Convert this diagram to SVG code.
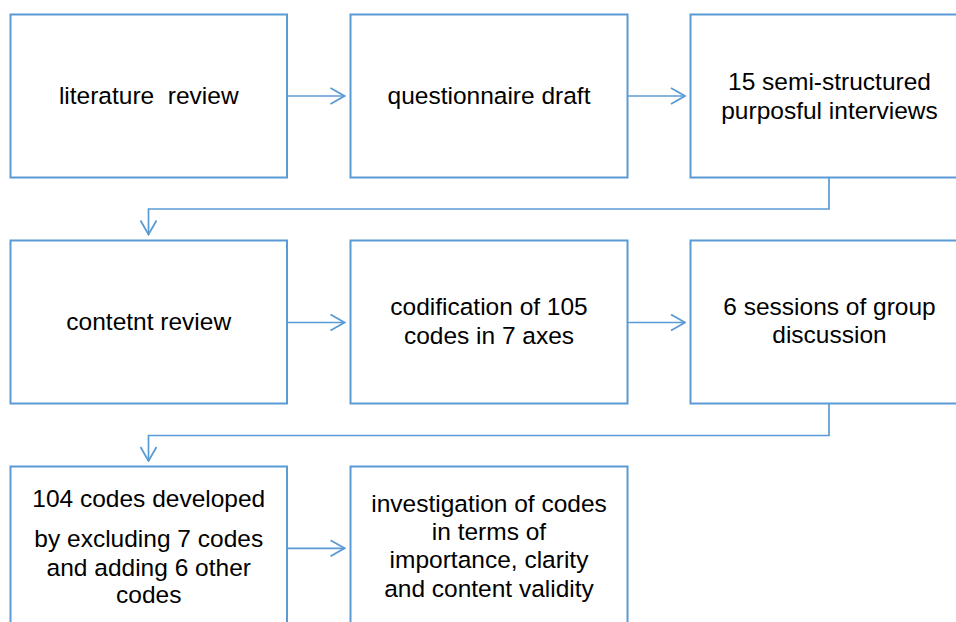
<svg xmlns="http://www.w3.org/2000/svg" width="956" height="622" viewBox="0 0 956 622">
<style>
.box{fill:#fff;stroke:#5B9BD5;stroke-width:2}
.con{fill:none;stroke:#5B9BD5;stroke-width:1.7}
text{font-family:"Liberation Sans",Arial,sans-serif;font-size:24.5px;fill:#000;text-anchor:middle}
</style>
<defs>
<marker id="ah" viewBox="0 0 16 18" refX="15" refY="9" markerWidth="16" markerHeight="18" markerUnits="userSpaceOnUse" orient="auto">
<path d="M1,1 L15,9 L1,17" fill="none" stroke="#5B9BD5" stroke-width="1.8"/>
</marker>
</defs>
<rect width="956" height="622" fill="#fff"/>
<g id="n1"><rect class="box" x="10.5" y="14.5" width="276.5" height="163"/><text x="148.75" y="103.5" xml:space="preserve">literature  review</text></g>
<g id="n2"><rect class="box" x="350.5" y="14.5" width="277" height="163"/><text x="489" y="103.5">questionnaire draft</text></g>
<g id="n3"><rect class="box" x="690.5" y="14.5" width="277" height="163"/><text x="829.5" y="89.5">15 semi-structured</text><text x="829.5" y="118.5">purposful interviews</text></g>
<g id="n4"><rect class="box" x="10.5" y="240.5" width="276.5" height="163"/><text x="148.75" y="329.5">contetnt review</text></g>
<g id="n5"><rect class="box" x="350.5" y="240.5" width="277" height="163"/><text x="489" y="315">codification of 105</text><text x="489" y="344">codes in 7 axes</text></g>
<g id="n6"><rect class="box" x="690.5" y="240.5" width="277" height="163"/><text x="829.5" y="315">6 sessions of group</text><text x="829.5" y="343">discussion</text></g>
<g id="n7"><rect class="box" x="10.5" y="466.5" width="276.5" height="170"/><text x="148.75" y="507.3">104 codes developed</text><text x="148.75" y="546.7">by excluding 7 codes</text><text x="148.75" y="576">and adding 6 other</text><text x="148.75" y="603.3">codes</text></g>
<g id="n8"><rect class="box" x="350.5" y="466.5" width="277" height="170"/><text x="489" y="511.7">investigation of codes</text><text x="489" y="540">in terms of</text><text x="489" y="568.3">importance, clarity</text><text x="489" y="596.7">and content validity</text></g>
<g id="connectors">
<path class="con" d="M287,96 H344.5" marker-end="url(#ah)"/>
<path class="con" d="M627.5,96 H685" marker-end="url(#ah)"/>
<path class="con" d="M829,177.5 V209 H148.5 V234.5" marker-end="url(#ah)"/>
<path class="con" d="M287,322.5 H344.5" marker-end="url(#ah)"/>
<path class="con" d="M627.5,322.5 H685" marker-end="url(#ah)"/>
<path class="con" d="M829,403.5 V435.5 H148.5 V461" marker-end="url(#ah)"/>
<path class="con" d="M287,548.3 H344.5" marker-end="url(#ah)"/>
</g>
</svg>
